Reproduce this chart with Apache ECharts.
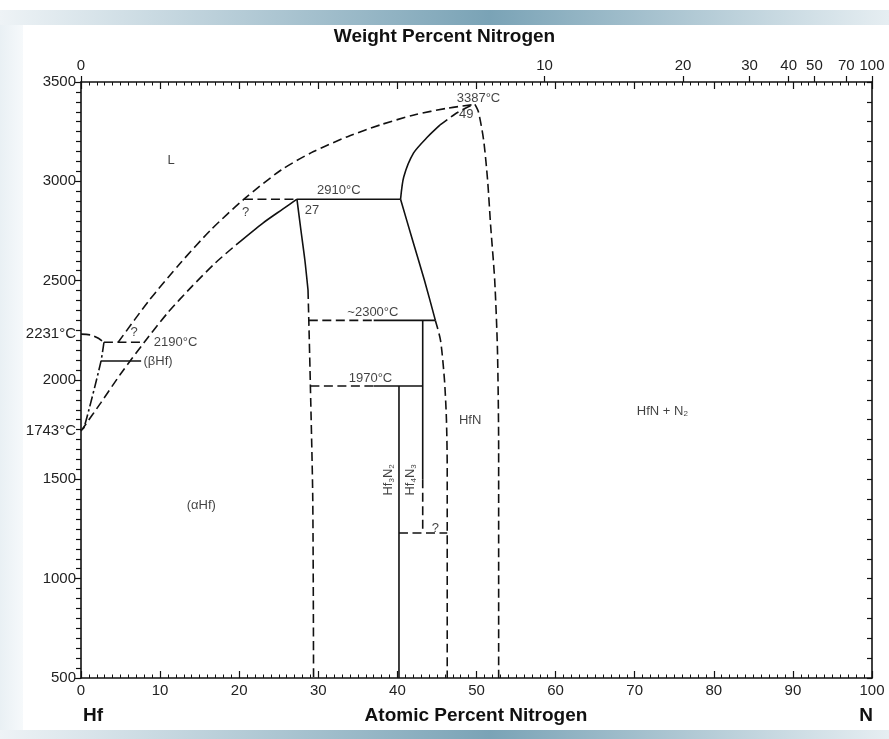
<!DOCTYPE html>
<html><head><meta charset="utf-8">
<script src="https://cdn.jsdelivr.net/npm/echarts@6/dist/echarts.min.js"></script>
<style>html,body{margin:0;padding:0;background:#fff;}#c{width:889px;height:739px;}</style>
</head><body><div id="c"></div><script>
// ---------- data ----------
const wtTicks = [0, 10, 20, 30, 40, 50, 70, 100];           // weight-percent labels on top axis
const yLabelValues = [500, 1000, 1500, 1743, 2000, 2231, 2500, 3000, 3500];
const M_N = 14.007, M_Hf = 178.49;

const hfMelt      = [[0,2231],[1.3,2226],[2.2,2210],[2.9,2190]];
const line2190    = [[2.9,2190],[8.0,2190]];
const betaBound   = [[2.9,2190],[2.5,2090],[0.4,1762],[0,1743]];
const betaLeader  = [[2.5,2096],[7.6,2096]];
const liquidus    = [[4.7,2190],[8.6,2400],[12.6,2590],[16.4,2755],[20.6,2910],[25.3,3057],[29.4,3150],[33.7,3225],[37.9,3285],[42.1,3334],[46.3,3368],[49.8,3387]];
const solidusDash = [[0,1743],[2.5,1885],[5,2030],[8,2190],[11,2340],[14,2470],[17,2590],[19.6,2680]];
const solidusSol  = [[19.6,2680],[23,2790],[25.5,2860],[27.3,2910]];
const line2910D   = [[20.6,2910],[27.3,2910]];
const line2910S   = [[27.3,2910],[40.4,2910]];
const hf2nSol     = [[27.3,2910],[27.8,2755],[28.3,2604],[28.7,2453]];
const hf2nDash    = [[28.7,2453],[28.8,2300],[29.0,1970],[29.3,1400],[29.4,500]];
const hfnLiqSol   = [[40.4,2910],[40.8,3022],[42.05,3143],[43.8,3223],[45.4,3284]];
const hfnLiqDash  = [[45.4,3284],[47.3,3339],[48.9,3374],[49.8,3387]];
const hfnLeftSol  = [[40.4,2910],[41.9,2706],[43.4,2505],[44.8,2300]];
const hfnLeftDash = [[44.8,2300],[45.45,2200],[45.95,2000],[46.2,1800],[46.3,1550],[46.3,500]];
const hfnRight    = [[49.8,3387],[50.25,3349],[50.9,3208],[51.4,3007],[51.8,2770],[52.3,2503],[52.65,2150],[52.8,1650],[52.8,500]];
const line2300D   = [[28.8,2300],[37,2300]];
const line2300S   = [[37,2300],[44.8,2300]];
const line1970D   = [[29.0,1970],[37,1970]];
const line1970S   = [[37,1970],[43.2,1970]];
const hf4n3Sol    = [[43.2,2300],[43.2,1500]];
const hf4n3Dash   = [[43.2,1500],[43.2,1230]];
const hf3n2       = [[40.2,1970],[40.2,500]];
const line1230    = [[40.2,1230],[46.3,1230]];

const labels = [
  {t:'3387°C', p:[50.25,3419]},
  {t:'49', p:[48.7,3339]},
  {t:'L', p:[11.4,3107]},
  {t:'2910°C', p:[32.6,2956]},
  {t:'27', p:[29.2,2856]},
  {t:'?', p:[20.8,2846]},
  {t:'?', p:[6.7,2237]},
  {t:'2190°C', p:[9.2,2191], align:'left'},
  {t:'(βHf)', p:[7.9,2096], align:'left'},
  {t:'~2300°C', p:[36.9,2342]},
  {t:'1970°C', p:[36.6,2010]},
  {t:'HfN', p:[49.2,1799]},
  {t:'HfN + N{s|2}', p:[73.5,1844]},
  {t:'Hf{s|3}N{s|2}', p:[38.9,1497], rot:90},
  {t:'Hf{s|4}N{s|3}', p:[41.7,1497], rot:90},
  {t:'(αHf)', p:[15.2,1371]},
  {t:'?', p:[44.8,1255]}
];

// ---------- helpers ----------
const F = "'Liberation Sans', Arial, Helvetica, sans-serif";
const atFromWt = w => 100 * (w / M_N) / (w / M_N + (100 - w) / M_Hf);
const wtFromAt = a => 100 * M_N * a / (M_N * a + M_Hf * (100 - a));
const topPos = wtTicks.map(atFromWt);

const DASH = [9, 4.5];
const DASHDOT = [10, 3, 2.5, 3];
function ln(data, type) {
  return {type:'line', data, xAxisIndex:0, yAxisIndex:0, showSymbol:false, symbol:'none',
    smooth: data.length > 3 ? 0.25 : false, silent:true, animation:false,
    lineStyle:{color:'#111', width:1.6, type: type || 'solid'}};
}

const series = [
  ln(hfMelt, DASH), ln(line2190, DASH), ln(betaBound, DASHDOT), ln(betaLeader),
  ln(liquidus, DASH), ln(solidusDash, DASH), ln(solidusSol),
  ln(line2910D, DASH), ln(line2910S), ln(hf2nSol), ln(hf2nDash, DASH),
  ln(hfnLiqSol), ln(hfnLiqDash, DASH), ln(hfnLeftSol), ln(hfnLeftDash, DASH), ln(hfnRight, DASH),
  ln(line2300D, DASH), ln(line2300S), ln(line1970D, DASH), ln(line1970S),
  ln(hf4n3Sol), ln(hf4n3Dash, DASH), ln(hf3n2), ln(line1230, DASH),
  {type:'scatter', xAxisIndex:0, yAxisIndex:0, symbolSize:0, silent:true, animation:false,
    data: labels.map(l => ({value:l.p, label:{
      show:true, formatter:l.t, position:[0,0], align:l.align||'center', verticalAlign:'middle',
      rotate:l.rot||0, color:'#111', fontSize:13, fontFamily:F,
      rich:{s:{fontSize:8, fontFamily:F, color:'#111', verticalAlign:'bottom', padding:[6,0,0,0]}}
    }}))}
];

const axisLineStyle = {color:'#111', width:1.6};
const chart = echarts.init(document.getElementById('c'), null, {renderer:'canvas'});
chart.setOption({
  animation:false,
  backgroundColor:'#fff',
  grid:{left:81, right:17, top:82, bottom:61, containLabel:false},
  xAxis:[
    {type:'value', position:'bottom', min:0, max:100, interval:10,
      axisLine:{show:true, onZero:false, lineStyle:axisLineStyle},
      axisTick:{show:true, inside:true, length:7, lineStyle:{color:'#111', width:1.2}},
      minorTick:{show:true, splitNumber:10, length:3.5, lineStyle:{color:'#111', width:1}},
      axisLabel:{margin:5, color:'#222', fontSize:15, fontFamily:F},
      splitLine:{show:false}},
    {type:'value', position:'top', min:0, max:100,
      axisLine:{show:true, onZero:false, lineStyle:axisLineStyle},
      axisTick:{show:true, inside:false, length:6, customValues:topPos, lineStyle:{color:'#111', width:1.2}},
      axisLabel:{margin:9, color:'#222', fontSize:15, fontFamily:F, customValues:topPos,
        formatter: v => String(Math.round(wtFromAt(v)))},
      splitLine:{show:false}},
    {type:'value', position:'top', min:0, max:100, interval:10,
      axisLine:{show:false, onZero:false},
      axisTick:{show:true, inside:true, length:7, lineStyle:{color:'#111', width:1.2}},
      minorTick:{show:true, splitNumber:10, length:3.5, lineStyle:{color:'#111', width:1}},
      axisLabel:{show:false}, splitLine:{show:false}}
  ],
  yAxis:[
    {type:'value', position:'left', min:500, max:3500, interval:500,
      axisLine:{show:true, onZero:false, lineStyle:axisLineStyle},
      axisTick:{show:true, inside:false, length:6, lineStyle:{color:'#111', width:1.2}},
      axisLabel:{margin:5, color:'#222', fontSize:15, fontFamily:F, customValues:yLabelValues,
        formatter: v => (v % 500 === 0 ? String(v) : v + '°C')},
      splitLine:{show:false}},
    {type:'value', position:'left', min:500, max:3500, interval:500,
      axisLine:{show:false, onZero:false},
      axisTick:{show:false},
      minorTick:{show:true, splitNumber:10, length:5, lineStyle:{color:'#111', width:1.2}},
      axisLabel:{show:false}, splitLine:{show:false}},
    {type:'value', position:'right', min:500, max:3500, interval:500,
      axisLine:{show:true, onZero:false, lineStyle:axisLineStyle},
      axisTick:{show:true, inside:true, length:5, lineStyle:{color:'#111', width:1.2}},
      minorTick:{show:true, splitNumber:5, length:5, lineStyle:{color:'#111', width:1.2}},
      axisLabel:{show:false}, splitLine:{show:false}}
  ],
  graphic:[
    {type:'rect', left:0, top:10, z:-1, shape:{width:889, height:15},
      style:{fill:new echarts.graphic.LinearGradient(0,0,1,0,[
        {offset:0, color:'#eef3f6'},{offset:0.55, color:'#7aa3b6'},{offset:1, color:'#e6eef2'}])}},
    {type:'rect', left:0, top:25, z:-1, shape:{width:23, height:705},
      style:{fill:new echarts.graphic.LinearGradient(0,0,1,0,[
        {offset:0, color:'#e9f0f4'},{offset:1, color:'#f6f9fb'}])}},
    {type:'rect', left:0, top:730, z:-1, shape:{width:889, height:9},
      style:{fill:new echarts.graphic.LinearGradient(0,0,1,0,[
        {offset:0, color:'#eef3f6'},{offset:0.55, color:'#7aa3b6'},{offset:1, color:'#e6eef2'}])}},
    {type:'text', left:'center', top:27, style:{text:'Weight Percent Nitrogen', font:"bold 19px 'Liberation Sans', Arial, sans-serif", fill:'#111'}},
    {type:'text', x:476, y:716, style:{text:'Atomic Percent Nitrogen', font:"bold 19px 'Liberation Sans', Arial, sans-serif", fill:'#111', textAlign:'center', textVerticalAlign:'middle'}},
    {type:'text', x:93, y:716, style:{text:'Hf', font:"bold 19px 'Liberation Sans', Arial, sans-serif", fill:'#111', textAlign:'center', textVerticalAlign:'middle'}},
    {type:'text', x:866, y:716, style:{text:'N', font:"bold 19px 'Liberation Sans', Arial, sans-serif", fill:'#111', textAlign:'center', textVerticalAlign:'middle'}}
  ],
  series
});
</script></body></html>
